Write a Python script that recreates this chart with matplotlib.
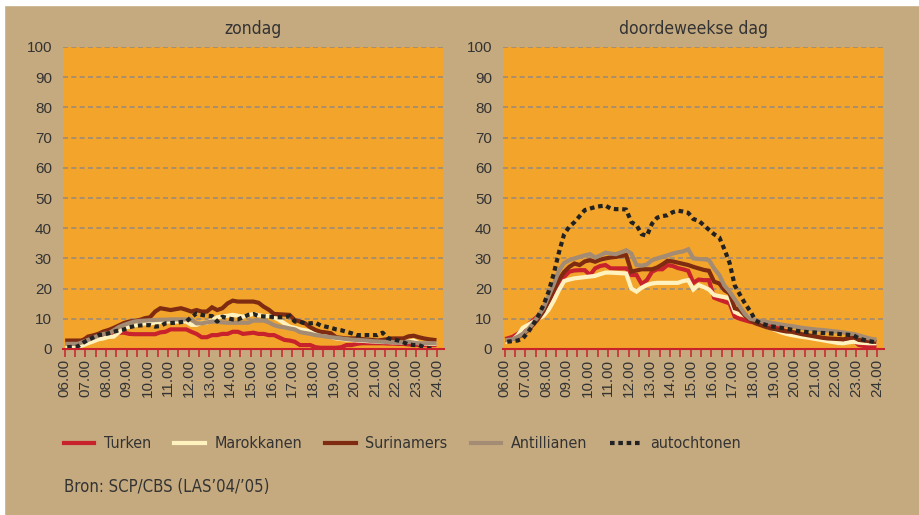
import matplotlib
matplotlib.use('Agg')
import matplotlib.pyplot as plt
from matplotlib import font_manager
from matplotlib.patches import Rectangle
from matplotlib.ticker import MultipleLocator

TAN = '#c5aa80'
ORANGE = '#f2a52a'
PLAIN = ['Liberation Sans', 'DejaVu Sans']

# smal lettertype voor titels en legenda, als het er is
_cond = font_manager.FontProperties(family='DejaVu Sans', stretch='condensed')
if 'Condensed' in font_manager.findfont(_cond):
    NARROW = dict(family='DejaVu Sans', stretch='condensed')
    NARROW_SCALE = 1.0
else:
    NARROW = dict(family='Liberation Sans')
    NARROW_SCALE = 0.88

# kwartiermiddens van 06.00 tot 24.00
quarters = [6.125 + 0.25 * i for i in range(72)]
hour_ticks = list(range(6, 25))
hour_labels = ['%02d.00' % h for h in hour_ticks]
titles = ['zondag', 'doordeweekse dag']
names = ['Turken', 'Marokkanen', 'Surinamers', 'Antillianen', 'autochtonen']

zon_turken = [
    0.6, 0.6, 0.6, 3.0, 3.5, 4.0, 4.5, 4.5, 4.3, 4.5, 5.4, 5.4,
    5.0, 4.9, 4.9, 4.9, 4.9, 4.9, 5.5, 5.7, 6.5, 6.5, 6.5, 6.5,
    5.7, 5.0, 3.9, 3.9, 4.6, 4.6, 5.0, 5.0, 5.7, 5.7, 5.0, 5.2,
    5.4, 5.0, 5.0, 4.6, 4.6, 3.8, 3.0, 2.8, 2.4, 1.3, 1.3, 1.3,
    0.6, 0.4, 0.4, 0.4, 0.4, 0.6, 1.3, 1.3, 1.7, 1.9, 1.9, 1.9,
    1.9, 1.9, 1.8, 1.8, 1.7, 1.7, 1.5, 1.5, 1.3, 1.3, 1.3, 1.3]
zon_marokkanen = [
    0.8, 0.8, 0.8, 1.2, 1.9, 2.5, 3.2, 3.5, 4.0, 4.1, 5.5, 7.0,
    7.4, 7.8, 8.2, 8.5, 8.5, 8.7, 8.9, 9.1, 9.1, 9.1, 9.1, 9.1,
    8.0, 8.0, 8.7, 8.7, 9.5, 10.5, 10.8, 11.0, 11.3, 11.0, 10.7, 11.2,
    11.6, 11.2, 10.9, 10.9, 10.5, 9.6, 8.5, 7.4, 7.0, 6.5, 6.2, 5.8,
    5.7, 5.0, 4.6, 4.0, 3.5, 3.3, 3.1, 3.0, 2.8, 2.7, 2.6, 2.5,
    2.4, 2.3, 2.3, 2.2, 2.2, 2.1, 2.5, 2.8, 1.9, 1.8, 1.7, 1.7]
zon_surinamers = [
    2.8, 2.8, 2.8, 2.8, 4.1, 4.5, 5.0, 5.8, 6.3, 7.0, 7.8, 8.6,
    9.1, 9.3, 9.6, 10.2, 10.5, 12.4, 13.5, 13.2, 12.9, 13.2, 13.5, 13.0,
    12.4, 12.9, 12.4, 12.4, 13.8, 12.9, 13.5, 15.1, 16.0, 15.7, 15.7, 15.7,
    15.7, 15.3, 14.0, 13.0, 11.6, 11.5, 11.4, 11.3, 9.6, 9.1, 8.5, 7.2,
    6.3, 5.7, 5.5, 5.2, 3.9, 3.7, 3.5, 3.5, 3.5, 3.3, 3.1, 3.0,
    2.8, 3.0, 3.3, 3.5, 3.5, 3.5, 4.2, 4.4, 3.9, 3.5, 3.2, 3.0]
zon_antillianen = [
    1.7, 1.7, 1.7, 2.3, 3.0, 3.7, 4.4, 5.0, 5.2, 6.2, 7.3, 8.0,
    8.6, 9.1, 9.3, 9.4, 9.5, 9.6, 9.7, 9.7, 9.8, 9.8, 9.8, 9.8,
    9.8, 8.5, 8.5, 8.8, 9.1, 9.0, 8.8, 8.7, 8.7, 8.7, 8.7, 8.7,
    9.4, 9.4, 9.4, 8.8, 7.9, 7.4, 7.2, 6.8, 6.5, 5.6, 5.3, 5.0,
    4.6, 4.4, 4.1, 3.9, 3.7, 3.5, 3.3, 3.1, 3.0, 2.9, 2.8, 2.6,
    2.5, 2.4, 2.3, 2.2, 2.1, 2.2, 2.4, 2.1, 1.9, 1.9, 1.9, 1.9]
zon_autochtonen = [
    0.6, 0.7, 0.8, 2.0, 3.0, 3.8, 4.6, 4.8, 5.2, 5.7, 6.2, 6.5,
    7.2, 7.6, 7.8, 7.9, 7.9, 7.4, 7.6, 8.5, 8.6, 8.7, 8.9, 9.1,
    10.5, 11.8, 11.3, 11.0, 10.9, 9.1, 10.7, 10.2, 9.8, 9.8, 10.5, 11.3,
    11.6, 10.9, 10.8, 10.7, 10.6, 10.5, 10.5, 10.9, 9.1, 9.0, 8.5, 8.5,
    8.7, 7.8, 7.4, 7.0, 6.5, 6.2, 5.7, 5.2, 4.6, 4.6, 4.6, 4.6,
    4.6, 5.4, 3.6, 3.2, 2.8, 2.2, 1.5, 1.3, 1.3, 0.6, 0.2, 0.0]

week_turken = [
    3.5, 4.0, 5.0, 6.5, 8.0, 9.5, 11.0, 12.5, 15.5, 19.0, 21.7, 23.9,
    25.6, 26.0, 26.1, 26.1, 24.5, 26.7, 27.5, 27.8, 26.7, 26.7, 26.7, 26.7,
    24.5, 24.5, 21.5, 22.8, 25.6, 26.4, 26.4, 27.8, 27.5, 26.8, 26.4, 25.9,
    21.9, 23.0, 22.8, 22.8, 17.0, 16.3, 15.7, 15.1, 10.7, 10.0, 9.5, 9.0,
    8.7, 8.3, 8.0, 7.6, 7.2, 6.5, 5.8, 5.2, 4.8, 4.4, 4.0, 3.8,
    3.6, 3.4, 3.2, 3.0, 3.0, 2.9, 2.8, 2.8, 1.3, 1.0, 0.9, 0.8]
week_marokkanen = [
    2.5, 3.0, 4.5, 7.0, 8.0, 9.0, 10.0, 11.0, 13.0, 16.0, 19.5, 22.5,
    23.0, 23.4, 23.6, 23.8, 24.0, 24.2, 24.8, 25.3, 25.3, 25.2, 25.1, 25.0,
    20.0, 19.0, 20.3, 21.2, 21.7, 21.9, 21.9, 21.9, 21.9, 21.9, 22.5, 22.8,
    19.7, 21.2, 20.5, 19.7, 17.9, 17.5, 17.2, 16.8, 12.3, 11.5, 11.2, 10.5,
    9.0, 8.0, 7.4, 6.8, 6.2, 5.5, 5.0, 4.6, 4.3, 4.0, 3.8, 3.5,
    3.2, 2.9, 2.6, 2.3, 2.0, 1.9, 2.2, 2.4, 2.1, 2.0, 1.9, 1.9]
week_surinamers = [
    3.0, 3.2, 3.8, 4.8, 6.2, 8.0, 10.0, 12.5, 16.0, 19.5, 23.0, 25.5,
    27.2, 28.3, 27.8, 29.0, 29.4, 28.9, 29.6, 30.0, 30.3, 30.5, 30.8, 31.1,
    25.6, 26.0, 26.4, 26.4, 26.4, 27.0, 28.0, 29.2, 29.0, 28.6, 28.2, 27.8,
    27.2, 26.7, 26.2, 25.9, 22.3, 21.7, 19.5, 18.4, 13.5, 12.9, 11.0, 9.6,
    8.5, 7.9, 7.3, 6.8, 6.5, 6.1, 5.8, 5.7, 5.3, 4.9, 4.6, 4.3,
    4.0, 3.7, 3.5, 3.4, 3.3, 3.2, 3.6, 3.9, 3.0, 2.8, 2.6, 2.4]
week_antillianen = [
    3.0, 3.2, 4.0, 5.0, 6.5, 8.5, 11.0, 13.5, 17.5, 21.5, 26.0, 28.5,
    29.4, 30.0, 30.5, 31.0, 31.4, 30.3, 31.0, 31.9, 31.6, 31.4, 32.0, 32.7,
    31.6, 27.8, 27.6, 28.0, 29.4, 30.0, 30.5, 31.0, 31.6, 32.0, 32.3, 33.0,
    30.0, 29.8, 29.7, 29.5, 26.7, 24.5, 21.0, 19.0, 16.5, 14.0, 11.5, 10.0,
    9.6, 9.3, 9.0, 8.7, 8.4, 8.1, 7.8, 7.6, 7.3, 7.0, 6.8, 6.6,
    6.4, 6.3, 6.1, 5.9, 5.7, 5.5, 5.2, 5.0, 4.5, 4.0, 3.5, 3.2]
week_autochtonen = [
    2.4, 2.6, 2.8, 3.5, 5.5, 8.0, 11.0, 14.5, 19.0, 25.0, 32.0, 38.0,
    40.5, 42.0, 44.0, 46.0, 46.5, 47.0, 47.3, 47.5, 46.5, 46.3, 46.3, 46.2,
    42.0, 41.0, 38.0, 37.5, 41.5, 43.5, 44.0, 44.3, 45.3, 45.8, 45.5, 45.1,
    43.0, 42.5, 41.0, 39.5, 38.0, 37.0, 33.0, 28.5, 21.0, 18.0, 15.0, 12.5,
    9.5, 8.5, 8.0, 7.5, 7.3, 7.0, 6.7, 6.4, 6.0, 5.8, 5.6, 5.5,
    5.4, 5.3, 5.2, 5.1, 5.0, 4.8, 4.7, 4.5, 3.5, 3.0, 2.6, 2.3]

styles = {
    'Turken': dict(color='#c8232c', lw=3.0),
    'Marokkanen': dict(color='#fff2bf', lw=3.0),
    'Surinamers': dict(color='#7e2b12', lw=3.0),
    'Antillianen': dict(color='#a38b74', lw=3.0),
    'autochtonen': dict(color='#222222', lw=3.0, dashes=(1.1, 0.9)),
}


def draw_panel(ax, title, values):
    ax.set_facecolor(ORANGE)
    for name, series in zip(names, values):
        ax.plot(quarters, series, label=name, solid_joinstyle='miter',
                **styles[name])
    ax.set_xlim(5.92, 24.34)
    ax.set_ylim(0, 100)
    ax.yaxis.set_major_locator(MultipleLocator(10))
    ax.grid(axis='y', color='#9c8b78', lw=1.2, dashes=(3, 2))
    ax.set_axisbelow(True)
    for side in ['left', 'top', 'right']:
        ax.spines[side].set_visible(False)
    ax.spines['bottom'].set_color('#c8232c')
    ax.spines['bottom'].set_linewidth(1.5)
    ax.spines['bottom'].set_zorder(5)
    ax.set_xticks(hour_ticks)
    ax.set_xticklabels(hour_labels, rotation=90, family=PLAIN,
                       fontsize=11, color='#333333')
    ax.xaxis.set_minor_locator(MultipleLocator(0.5))
    ax.tick_params(axis='x', which='both', direction='out', length=5.5,
                   width=1.1, color='#c8232c', pad=1.5)
    ax.tick_params(axis='y', length=0, pad=8, labelsize=11,
                   labelcolor='#333333')
    for lab in ax.get_yticklabels():
        lab.set_family(PLAIN)
    ax.set_title(title, fontsize=12.5 * NARROW_SCALE, color='#333333',
                 pad=9, **NARROW)


fig = plt.figure(figsize=(9.19, 5.15), dpi=100)
fig.patch.set_facecolor(TAN)
fig.patches.append(Rectangle((0, 1 - 5 / 515), 1, 5 / 515, transform=fig.transFigure,
                             color='white', zorder=0))
fig.patches.append(Rectangle((0, 0), 4 / 919, 1, transform=fig.transFigure,
                             color='white', zorder=0))

ax1 = fig.add_axes([63 / 919, 1 - 349 / 515, 381 / 919, 302 / 515])
ax2 = fig.add_axes([503 / 919, 1 - 349 / 515, 381 / 919, 302 / 515])
draw_panel(ax1, titles[0], [zon_turken, zon_marokkanen, zon_surinamers,
                            zon_antillianen, zon_autochtonen])
draw_panel(ax2, titles[1], [week_turken, week_marokkanen, week_surinamers,
                            week_antillianen, week_autochtonen])

handles, labels = ax1.get_legend_handles_labels()
legend_font = font_manager.FontProperties(size=11.5 * NARROW_SCALE, **NARROW)
leg = fig.legend(handles, labels, loc='center left', ncol=5,
                 bbox_to_anchor=(64 / 919, 1 - 444 / 515), frameon=False,
                 borderaxespad=0, borderpad=0, handlelength=1.9,
                 handletextpad=0.6, columnspacing=1.45, prop=legend_font)
for t in leg.get_texts():
    t.set_color('#333333')

fig.text(64 / 919, 1 - 487 / 515, 'Bron: SCP/CBS (LAS\u201904/\u201905)',
         fontsize=12 * NARROW_SCALE, color='#333333', va='center', **NARROW)

fig.savefig('out.png', dpi=100, facecolor=fig.get_facecolor())
